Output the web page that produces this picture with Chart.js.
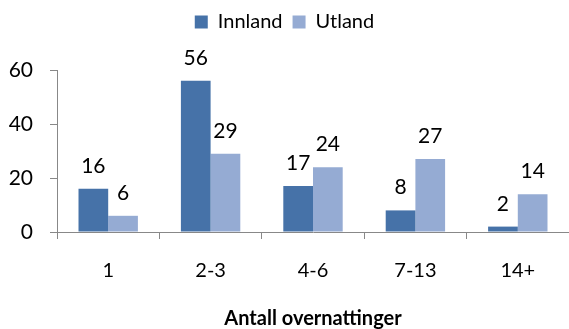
<!DOCTYPE html>
<html>
<head>
<meta charset="utf-8">
<script src="https://cdn.jsdelivr.net/npm/chart.js@4/dist/chart.umd.min.js"></script>
<style>
  html, body { margin: 0; padding: 0; background: #fff; }
  #wrap { width: 569px; height: 329px; }
</style>
</head>
<body>
<div id="wrap"><canvas id="grafico"></canvas></div>
<script>
const kategorier = ["1", "2-3", "4-6", "7-13", "14+"];
const innland = [16, 56, 17, 8, 2];
const utland = [6, 29, 24, 27, 14];
const yTicks = [0, 20, 40, 60];

const fonte = "Lato, 'Liberation Sans', sans-serif";

// tall over hver søyle
const verdiEtiketter = {
  id: "verdiEtiketter",
  afterDatasetsDraw(chart) {
    const ctx = chart.ctx;
    ctx.save();
    ctx.font = "21px " + fonte;
    ctx.fillStyle = "#000";
    ctx.textAlign = "center";
    ctx.textBaseline = "alphabetic";
    chart.data.datasets.forEach((ds, i) => {
      chart.getDatasetMeta(i).data.forEach((bar, j) => {
        ctx.fillText(ds.data[j], bar.x, bar.y - 16);
      });
    });
    ctx.restore();
  }
};

// ekstra luft under forklaringen
const legendeLuft = {
  id: "legendeLuft",
  beforeInit(chart) {
    const fit = chart.legend.fit;
    chart.legend.fit = function () {
      fit.bind(chart.legend)();
      this.height += 28;
    };
  }
};

new Chart(document.getElementById("grafico"), {
  type: "bar",
  data: {
    labels: kategorier,
    datasets: [
      { label: "Innland", data: innland, backgroundColor: "#4672a8" },
      { label: "Utland", data: utland, backgroundColor: "#95abd3" }
    ]
  },
  options: {
    responsive: true,
    maintainAspectRatio: false,
    animation: false,
    layout: { padding: { top: 2, right: 0, left: 0, bottom: 0 } },
    datasets: { bar: { categoryPercentage: 0.58, barPercentage: 1 } },
    plugins: {
      legend: {
        position: "top",
        labels: {
          color: "#000",
          font: { family: fonte, size: 20 },
          boxWidth: 13,
          boxHeight: 13,
          padding: 10
        }
      },
      tooltip: { enabled: false }
    },
    scales: {
      x: {
        grid: { drawOnChartArea: false, drawTicks: true, tickLength: 7, color: "#888" },
        border: { color: "#888", width: 1 },
        ticks: { color: "#000", font: { family: fonte, size: 20 }, padding: 20 },
        title: {
          display: true,
          text: "Antall overnattinger",
          color: "#000",
          font: { family: fonte, size: 20, weight: "bold", lineHeight: 1 },
          padding: { top: 6, bottom: 0 }
        }
      },
      y: {
        min: 0,
        max: 60,
        afterBuildTicks: (axis) => { axis.ticks = yTicks.map(v => ({ value: v })); },
        afterFit: (axis) => { axis.width = 57; },
        grid: { drawOnChartArea: false, drawTicks: true, tickLength: 7, color: "#888" },
        border: { color: "#888", width: 1 },
        ticks: { color: "#000", font: { family: fonte, size: 21 }, padding: 17 }
      }
    }
  },
  plugins: [verdiEtiketter, legendeLuft]
});
</script>
</body>
</html>
